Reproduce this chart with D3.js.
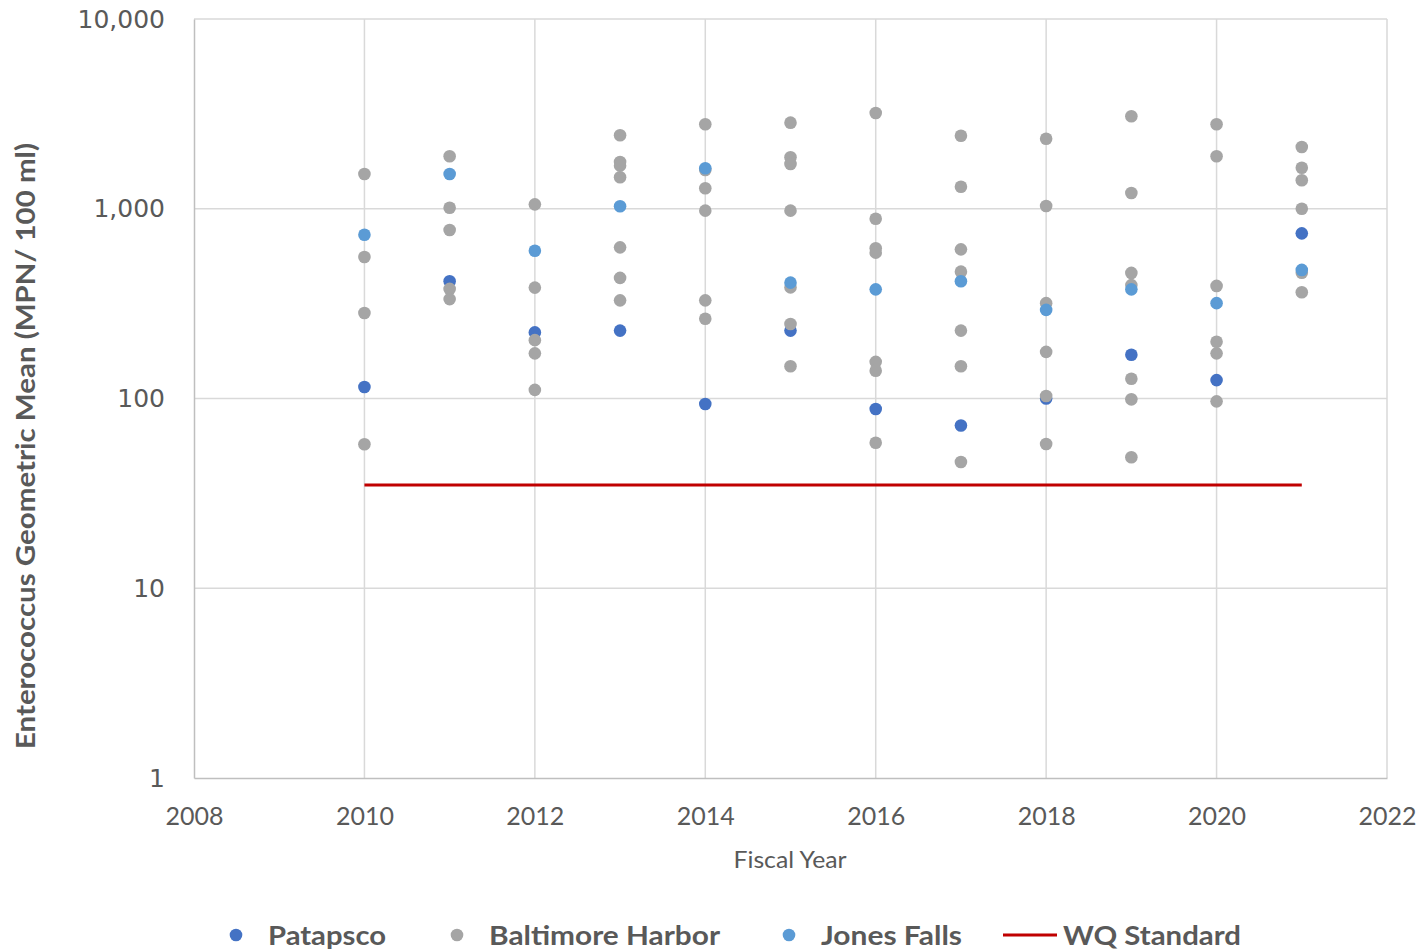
<!DOCTYPE html>
<html>
<head>
<meta charset="utf-8">
<script src="https://cdn.jsdelivr.net/npm/d3@7"></script>
<style>
  body { margin: 0; background: #fff; }
  svg { display: block; }
</style>
</head>
<body>
<svg id="chart" width="1420" height="950"></svg>
<script>
// ---- Data ----
const years = [2010, 2011, 2012, 2013, 2014, 2015, 2016, 2017, 2018, 2019, 2020, 2021];
const patapsco = [115, 415, 223, 228, 93.5, 228, 88, 72, 100, 170, 125, 742];
const jonesFalls = [730, 1524, 601, 1031, 1634, 408, 376, 415, 293, 376, 318, 476];
const harbor2010 = [1524, 557, 282, 57.4];
const harbor2011 = [1890, 1013, 773, 378, 334];
const harbor2012 = [1055, 384, 203, 173, 111];
const harbor2013 = [2439, 1763, 1687, 1465, 626, 432, 329];
const harbor2014 = [2786, 1600, 1282, 977, 329, 263];
const harbor2015 = [2842, 1867, 1721, 977, 385, 247, 148];
const harbor2016 = [3196, 886, 619, 587, 156, 140, 58.5];
const harbor2017 = [2427, 1307, 611, 466, 228, 148, 46.3];
const harbor2018 = [2340, 1034, 318, 176, 103, 57.6];
const harbor2019 = [3071, 1211, 459, 396, 127, 99, 49];
const harbor2020 = [2786, 1890, 392, 199, 173, 96.6];
const harbor2021 = [2116, 1646, 1413, 1000, 460, 363];
const harborByYear = [harbor2010, harbor2011, harbor2012, harbor2013, harbor2014, harbor2015,
                      harbor2016, harbor2017, harbor2018, harbor2019, harbor2020, harbor2021];
const wqStandard = 35;
const wqYears = [2010, 2021];
const xTicks = [2008, 2010, 2012, 2014, 2016, 2018, 2020, 2022];
const yTicks = [1, 10, 100, 1000, 10000];
const seriesNames = ["Patapsco", "Baltimore Harbor", "Jones Falls", "WQ Standard"];

// ---- Layout ----
const colors = { patapsco: "#4472C4", harbor: "#A5A5A5", jones: "#5B9BD5", wq: "#C00000" };
const textColor = "#595959";
const pLeft = 194, pRight = 1387, pTop = 19, pBottom = 778;

const svg = d3.select("#chart");
const x = d3.scaleLinear().domain([2008, 2022]).range([pLeft, pRight]);
const y = d3.scaleLog().domain([1, 10000]).range([pBottom, pTop]);

// Gridlines
const grid = svg.append("g");
grid.selectAll("line.h").data(yTicks.slice(1)).join("line")
  .attr("x1", pLeft).attr("x2", pRight)
  .attr("y1", d => y(d)).attr("y2", d => y(d))
  .attr("stroke", "#d9d9d9").attr("stroke-width", 1.5);
grid.selectAll("line.v").data(xTicks.slice(1)).join("line")
  .attr("x1", d => x(d)).attr("x2", d => x(d))
  .attr("y1", pTop).attr("y2", pBottom)
  .attr("stroke", "#d9d9d9").attr("stroke-width", 1.5);

// Axes
const xAxis = svg.append("g").attr("transform", `translate(0,${pBottom})`)
  .call(d3.axisBottom(x).tickValues(xTicks).tickFormat(d3.format("d")).tickSize(0).tickPadding(29));
xAxis.select(".domain").attr("stroke", "#bfbfbf").attr("stroke-width", 1.5);
xAxis.selectAll("text").attr("fill", textColor).style("font-family", "Lato, 'Open Sans', sans-serif").style("font-size", "25px");

const yAxis = svg.append("g").attr("transform", `translate(${pLeft},0)`)
  .call(d3.axisLeft(y).tickValues(yTicks).tickFormat(d3.format(",")).tickSize(0).tickPadding(29));
yAxis.select(".domain").attr("stroke", "#bfbfbf").attr("stroke-width", 1.5);
yAxis.selectAll("text").attr("fill", textColor).style("font-family", "'DejaVu Sans', sans-serif").style("font-size", "25px");

// WQ standard line
svg.append("line")
  .attr("x1", x(wqYears[0])).attr("x2", x(wqYears[1]))
  .attr("y1", y(wqStandard)).attr("y2", y(wqStandard))
  .attr("stroke", colors.wq).attr("stroke-width", 3);

// Points: Patapsco, then Harbor, then Jones Falls
const r = 6.3;
svg.append("g").selectAll("circle").data(years.map((yr, i) => [yr, patapsco[i]])).join("circle")
  .attr("cx", d => x(d[0])).attr("cy", d => y(d[1])).attr("r", r).attr("fill", colors.patapsco);

const harborPts = [];
years.forEach((yr, i) => harborByYear[i].forEach(v => harborPts.push([yr, v])));
svg.append("g").selectAll("circle").data(harborPts).join("circle")
  .attr("cx", d => x(d[0])).attr("cy", d => y(d[1])).attr("r", r).attr("fill", colors.harbor);

svg.append("g").selectAll("circle").data(years.map((yr, i) => [yr, jonesFalls[i]])).join("circle")
  .attr("cx", d => x(d[0])).attr("cy", d => y(d[1])).attr("r", r).attr("fill", colors.jones);

// Axis titles
svg.append("text")
  .attr("x", 790).attr("y", 868)
  .attr("text-anchor", "middle").attr("fill", textColor)
  .style("font-family", "Lato, 'Open Sans', sans-serif").style("font-size", "24px")
  .attr("textLength", 113).attr("lengthAdjust", "spacingAndGlyphs")
  .text("Fiscal Year");

svg.append("text")
  .attr("transform", `translate(35,446) rotate(-90)`)
  .attr("text-anchor", "middle").attr("fill", textColor)
  .style("font-family", "Lato, 'Open Sans', sans-serif").style("font-size", "27px").style("font-weight", "bold")
  .attr("textLength", 606).attr("lengthAdjust", "spacingAndGlyphs")
  .text("Enterococcus Geometric Mean (MPN/ 100 ml)");

// Legend
const legendY = 935;
const legendItems = [
  { name: seriesNames[0], color: colors.patapsco, type: "dot", mx: 236, tx: 268, w: 118 },
  { name: seriesNames[1], color: colors.harbor, type: "dot", mx: 457, tx: 489, w: 231 },
  { name: seriesNames[2], color: colors.jones, type: "dot", mx: 789, tx: 821, w: 141 },
  { name: seriesNames[3], color: colors.wq, type: "line", mx: 1030, tx: 1063, w: 178 }
];
const lg = svg.append("g");
legendItems.forEach(it => {
  if (it.type === "dot") {
    lg.append("circle").attr("cx", it.mx).attr("cy", legendY).attr("r", r).attr("fill", it.color);
  } else {
    lg.append("line").attr("x1", it.mx - 27).attr("x2", it.mx + 27)
      .attr("y1", legendY).attr("y2", legendY).attr("stroke", it.color).attr("stroke-width", 3);
  }
  lg.append("text").attr("x", it.tx).attr("y", legendY + 10)
    .attr("fill", textColor)
    .style("font-family", "Lato, 'Open Sans', sans-serif").style("font-size", "27px").style("font-weight", "bold")
    .attr("textLength", it.w).attr("lengthAdjust", "spacingAndGlyphs")
    .text(it.name);
});
</script>
</body>
</html>
